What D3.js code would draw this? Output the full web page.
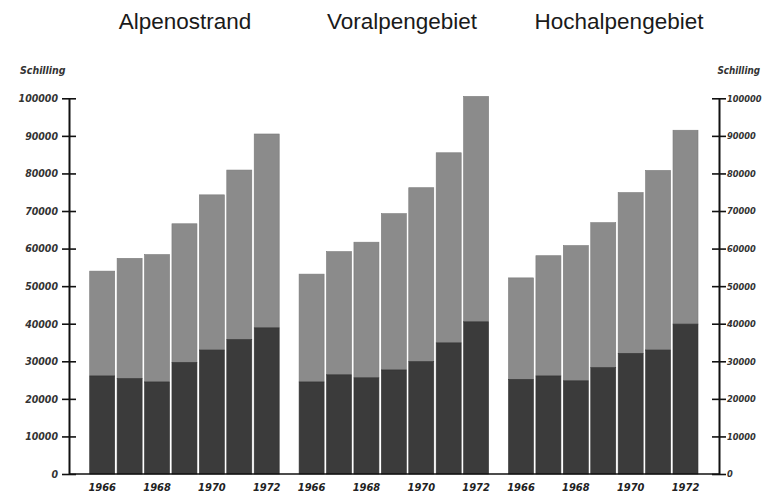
<!DOCTYPE html>
<html><head><meta charset="utf-8">
<script src="https://cdn.jsdelivr.net/npm/d3@7"></script>
<style>
html,body{margin:0;padding:0;background:#fff;}
svg{display:block;}
.tick text{font-family:"Liberation Sans Narrow","DejaVu Sans Condensed","Liberation Sans",sans-serif;font-style:italic;font-weight:bold;}
</style></head>
<body>
<svg id="c" width="763" height="497"></svg>
<script>
const regions = ["Alpenostrand", "Voralpengebiet", "Hochalpengebiet"];
const years = [1966, 1967, 1968, 1969, 1970, 1971, 1972];
const yearLabels = [1966, 1968, 1970, 1972];
const yTicks = [0, 10000, 20000, 30000, 40000, 50000, 60000, 70000, 80000, 90000, 100000];
const unitLabel = "Schilling";

// lower (dark) segment and total bar height, per region
const darkAlpenostrand    = [26100, 25400, 24500, 29700, 33000, 35800, 38900];
const totalAlpenostrand   = [54000, 57400, 58400, 66600, 74300, 80900, 90500];
const darkVoralpengebiet  = [24500, 26400, 25600, 27700, 29900, 34900, 40500];
const totalVoralpengebiet = [53200, 59200, 61700, 69300, 76200, 85500, 100500];
const darkHochalpengebiet = [25200, 26100, 24800, 28300, 32100, 33000, 39900];
const totalHochalpengebiet= [52200, 58100, 60800, 66900, 74900, 80800, 91500];

const darkByRegion = [darkAlpenostrand, darkVoralpengebiet, darkHochalpengebiet];
const totalByRegion = [totalAlpenostrand, totalVoralpengebiet, totalHochalpengebiet];

const svg = d3.select("#c");
const axisLeftX = 69, axisRightX = 719;
const y = d3.scaleLinear().domain([0, 100000]).range([474, 98.3]);
const xGroup = d3.scaleBand().domain(regions).range([89.7, 698]).paddingInner(0.095);
const xBar = d3.scaleBand().domain(years).range([0, xGroup.bandwidth()]).paddingInner(0.088);
const xTitle = d3.scalePoint().domain(regions).range([185, 619]);

const lightCol = "#8b8b8b", darkCol = "#3b3b3b";

regions.forEach((r, gi) => {
  const g = svg.append("g").attr("transform", `translate(${xGroup(r)},0)`);
  const rows = years.map((yr, i) => ({yr, dark: darkByRegion[gi][i], total: totalByRegion[gi][i]}));
  g.selectAll("rect.light").data(rows).join("rect")
    .attr("x", d => xBar(d.yr)).attr("width", xBar.bandwidth())
    .attr("y", d => y(d.total)).attr("height", d => y(d.dark) - y(d.total))
    .attr("fill", lightCol).attr("stroke", "#7a7a7a").attr("stroke-width", 0.6);
  g.selectAll("rect.dark").data(rows).join("rect")
    .attr("x", d => xBar(d.yr)).attr("width", xBar.bandwidth())
    .attr("y", d => y(d.dark)).attr("height", d => y(0) - y(d.dark))
    .attr("fill", darkCol).attr("stroke", "#333").attr("stroke-width", 0.6);
  // year labels
  const xa = d3.axisBottom(xBar).tickValues(yearLabels).tickSize(0).tickPadding(0);
  const ax = g.append("g").attr("transform", `translate(0,${y(0)})`).call(xa);
  ax.select(".domain").remove();
  ax.selectAll("text").attr("dy", null).attr("y", 17).attr("font-size", 11).attr("fill", "#222");
  // title
  svg.append("text").attr("x", xTitle(r)).attr("y", 29)
    .attr("text-anchor", "middle").attr("font-family", "Liberation Sans, Arial, sans-serif")
    .attr("font-size", 22.5).attr("fill", "#1a1a1a").text(r);
});

// baseline
svg.append("line").attr("x1", axisLeftX).attr("x2", axisRightX)
  .attr("y1", y(0)).attr("y2", y(0)).attr("stroke", "#111").attr("stroke-width", 1.6);

function styleAxis(a, fs) {
  a.select(".domain").attr("stroke", "#111").attr("stroke-width", 2);
  a.selectAll(".tick line").attr("stroke", "#111").attr("stroke-width", 1.6);
  a.selectAll(".tick text").attr("font-size", fs).attr("fill", "#333");
}
const yl = d3.axisLeft(y).tickValues(yTicks).tickFormat(d3.format("d")).tickSizeInner(7).tickSizeOuter(0).tickPadding(4);
const gl = svg.append("g").attr("transform", `translate(${axisLeftX},0)`).call(yl);
gl.selectAll(".tick line").attr("x2", 7).attr("x1", -7);
gl.selectAll(".tick text").attr("x", -11);
styleAxis(gl, 10.5);

const yr = d3.axisRight(y).tickValues(yTicks).tickFormat(d3.format("d")).tickSizeInner(7).tickSizeOuter(0).tickPadding(4);
const gr = svg.append("g").attr("transform", `translate(${axisRightX},0)`).call(yr);
gr.selectAll(".tick line").attr("x1", -7).attr("x2", 7);
gr.selectAll(".tick text").attr("x", 8);
styleAxis(gr, 9.2);

const unitStyle = (s, fs) => s.attr("font-family", "Liberation Sans Narrow, DejaVu Sans Condensed, sans-serif")
  .attr("font-style", "italic").attr("font-weight", "bold").attr("font-size", fs).attr("fill", "#333");
svg.append("text").attr("x", 20).attr("y", 74).text(unitLabel).call(unitStyle, 10.5);
svg.append("text").attr("x", 760).attr("y", 74).attr("text-anchor", "end").text(unitLabel).call(unitStyle, 9.8);
</script>
</body></html>
